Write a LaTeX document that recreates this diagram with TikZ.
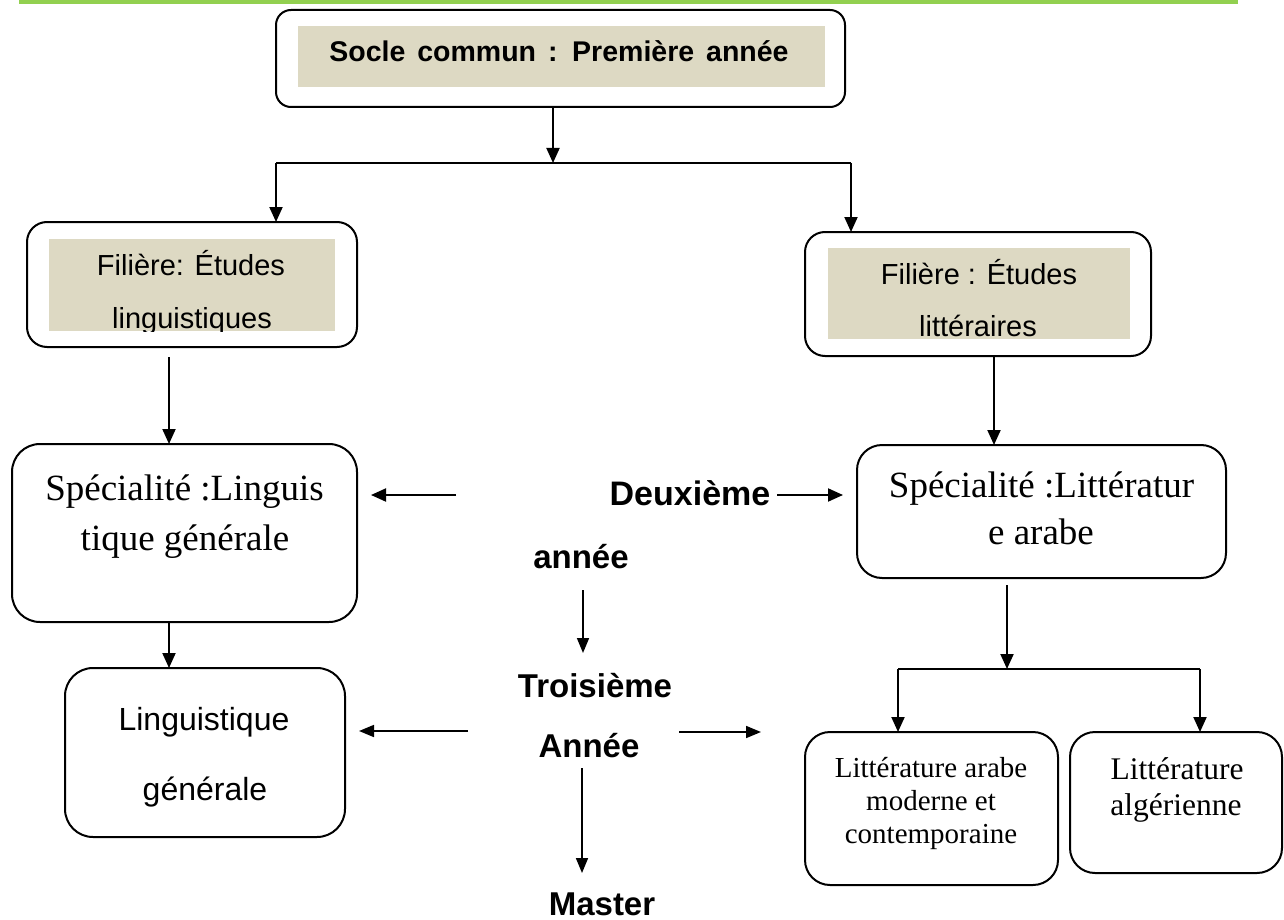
\documentclass[tikz,border=0pt]{standalone}
\usepackage{fontspec}
\setmainfont{Liberation Serif}
\newfontfamily\arialfam{Liberation Sans}
\usetikzlibrary{arrows.meta,calc}
\definecolor{barGreen}{RGB}{146,208,80}
\definecolor{tanFill}{RGB}{221,217,195}
\newcommand\myfs[1]{\fontsize{#1}{#1}\selectfont}
\tikzset{
  box/.style={draw, line width=2pt, rounded corners=#1, inner sep=0pt, outer sep=0pt},
  box/.default=22pt,
  tanbox/.style={fill=tanFill, inner sep=0pt, outer sep=0pt},
  lbl/.style={anchor=base, inner sep=0pt, outer sep=0pt},
  arr/.style={line width=2pt, -{Triangle[length=15pt,width=13pt]}},
  thinarr/.style={line width=1.7pt, -{Triangle[length=15pt,width=12pt]}},
  link/.style={line width=1.7pt},
}
\begin{document}
\begin{tikzpicture}[x=1pt,y=-1pt]
\useasboundingbox (0,0) rectangle (1284,920);
\fill[barGreen] (19,0) rectangle (1238,4.5);

% boxes
\node[box=15pt, minimum width=569pt, minimum height=97pt] (socle) at (560.5,58.5) {};
\node[tanbox, minimum width=527pt, minimum height=61pt] (socleF) at (561.5,56.5) {};
\node[box=20pt, minimum width=330pt, minimum height=125pt] (fil1) at (192,284.5) {};
\node[tanbox, minimum width=286pt, minimum height=92pt] (fil1F) at (192,285) {};
\node[box=20pt, minimum width=346pt, minimum height=124pt] (fil2) at (978,294) {};
\node[tanbox, minimum width=302pt, minimum height=91pt] (fil2F) at (979,293.5) {};
\node[box=28pt, minimum width=345pt, minimum height=178pt] (spec1) at (184.5,533) {};
\node[box=25pt, minimum width=369pt, minimum height=133pt] (spec2) at (1041.5,511.5) {};
\node[box=28pt, minimum width=280pt, minimum height=169pt] (lg) at (205,752.5) {};
\node[box=25pt, minimum width=253pt, minimum height=153pt] (la) at (931.5,808.5) {};
\node[box=25pt, minimum width=212pt, minimum height=141pt] (lal) at (1176,802.5) {};

% texts
\node[lbl] (tsocle) at (559,62) {\arialfam\bfseries\myfs{28.5}\spaceskip=0.42em Socle commun : Première année};
\begin{scope}
  \clip (fil1F.south west) rectangle (fil1F.north east);
  \node[lbl] (tf1a) at (191,275) {\arialfam\myfs{29}Filière: Études};
  \node[lbl] (tf1b) at (192,328) {\arialfam\myfs{29}linguistiques};
\end{scope}
\node[lbl] (tf2a) at (979,284) {\arialfam\myfs{29}Filière : Études};
\node[lbl] (tf2b) at (978,336) {\arialfam\myfs{29}littéraires};
\node[lbl] (ts1a) at (184.5,500) {\myfs{37}Spécialité :Linguis};
\node[lbl] (ts1b) at (185,550) {\myfs{37}tique générale};
\node[lbl] (ts2a) at (1041.5,497) {\myfs{37}Spécialité :Littératur};
\node[lbl] (ts2b) at (1041,544) {\myfs{37}e arabe};
\node[lbl] (tlga) at (204,730) {\arialfam\myfs{32}Linguistique};
\node[lbl] (tlgb) at (205,800) {\arialfam\myfs{32}générale};
\node[lbl] (tlaa) at (931,777) {\myfs{29}Littérature arabe};
\node[lbl] (tlab) at (931,810) {\myfs{29}moderne et};
\node[lbl] (tlac) at (931,843) {\myfs{29}contemporaine};
\node[lbl] (tlala) at (1177,779) {\myfs{31.5}Littérature};
\node[lbl] (tlalb) at (1176,815) {\myfs{31.5}algérienne};
\node[lbl] (deux) at (690,505) {\arialfam\bfseries\myfs{34}Deuxième};
\node[lbl] (deuxb) at (581,568) {\arialfam\bfseries\myfs{33}année};
\node[lbl] (trois) at (595,697) {\arialfam\bfseries\myfs{33}Troisième};
\node[lbl] (troisb) at (589,757) {\arialfam\bfseries\myfs{33}Année};
\node[lbl] (master) at (602,915) {\arialfam\bfseries\myfs{33}Master};

% connectors
\coordinate (j0) at (553,163);
\coordinate (jl) at (276,163);
\coordinate (jr) at (851,163);
\draw[arr] (socle.south -| j0) -- (j0);
\draw[link] (jl) -- (jr);
\draw[arr] (jl) -- (jl |- fil1.north);
\draw[arr] (jr) -- (jr |- fil2.north);

\coordinate (a1) at (169,357);
\draw[arr] (a1) -- (a1 |- spec1.north);
\draw[arr] (spec1.south -| a1) -- (a1 |- lg.north);
\coordinate (a2) at (994,356);
\draw[arr] (fil2.south -| a2) -- (a2 |- spec2.north);
\coordinate (a3) at (1007,585);
\coordinate (j2) at (1007,669);
\coordinate (jl2) at (898,669);
\coordinate (jr2) at (1200,669);
\draw[arr] (a3) -- (j2);
\draw[link] (jl2) -- (jr2);
\draw[arr] (jl2) -- (jl2 |- la.north);
\draw[arr] (jr2) -- (jr2 |- lal.north);

\coordinate (d1s) at (456,495);
\coordinate (d1e) at (371,495);
\coordinate (d2s) at (777,495);
\coordinate (d2e) at (843,495);
\draw[arr] (d1s) -- (d1e);
\draw[arr] (d2s) -- (d2e);
\coordinate (v1s) at (583,590);
\coordinate (v1e) at (583,653);
\draw[thinarr] (v1s) -- (v1e);
\coordinate (t1s) at (468,731);
\coordinate (t1e) at (359,731);
\coordinate (t2s) at (679,732);
\coordinate (t2e) at (761,732);
\draw[thinarr] (t1s) -- (t1e);
\draw[thinarr] (t2s) -- (t2e);
\coordinate (v2s) at (582,768);
\coordinate (v2e) at (582,873);
\draw[thinarr] (v2s) -- (v2e);
\end{tikzpicture}
\end{document}
